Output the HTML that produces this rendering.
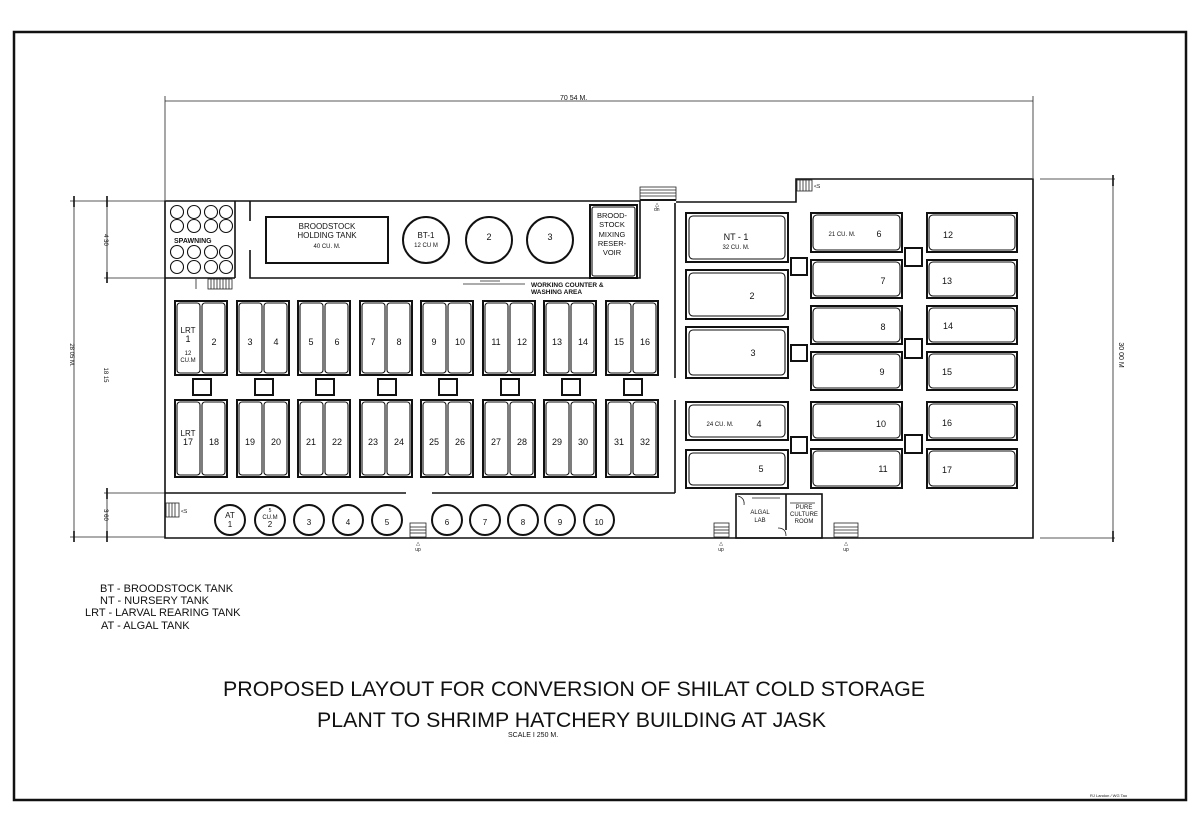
<!DOCTYPE html>
<html><head><meta charset="utf-8"><style>
html,body{margin:0;padding:0;background:#fff;}
svg{display:block;}
text{font-family:"Liberation Sans",sans-serif;fill:#111;}
.o{fill:none;stroke:#111;stroke-width:2;}
.i{fill:none;stroke:#111;stroke-width:1.1;}
.l{fill:none;stroke:#111;stroke-width:1.6;}
.t{fill:none;stroke:#222;stroke-width:0.8;}
.s{font-size:8px;}
.n{font-size:10px;text-anchor:middle;}
</style></head><body>
<svg width="1200" height="823" viewBox="0 0 1200 823" xmlns="http://www.w3.org/2000/svg">
<rect x="0" y="0" width="1200" height="823" fill="#fff"/>
<rect x="14" y="32" width="1172" height="768" fill="none" stroke="#111" stroke-width="2.5"/>

<line class="t" x1="165" y1="101" x2="1033" y2="101"/>
<line class="t" x1="165" y1="96" x2="165" y2="200"/>
<line class="t" x1="1033" y1="96" x2="1033" y2="178"/>
<text x="560" y="100" style="font-size:7px">70 54  M.</text>
<line class="t" x1="1113" y1="179" x2="1113" y2="538"/>
<line class="t" x1="1040" y1="179" x2="1115" y2="179"/>
<line class="t" x1="1040" y1="538" x2="1115" y2="538"/>
<line class="l" x1="1113" y1="175" x2="1113" y2="186"/>
<line class="l" x1="1113" y1="531" x2="1113" y2="542"/>
<text transform="translate(1119,355) rotate(90)" style="font-size:7px" text-anchor="middle">30 00 M</text>
<line class="t" x1="74" y1="201" x2="74" y2="537"/>
<line class="t" x1="107" y1="201" x2="107" y2="278"/>
<line class="t" x1="107" y1="493" x2="107" y2="537"/>
<line class="t" x1="70" y1="201" x2="165" y2="201"/>
<line class="t" x1="104" y1="278" x2="165" y2="278"/>
<line class="t" x1="104" y1="493" x2="165" y2="493"/>
<line class="t" x1="70" y1="537" x2="165" y2="537"/>
<line class="l" x1="74" y1="196" x2="74" y2="207"/><line class="l" x1="74" y1="531" x2="74" y2="542"/>
<line class="l" x1="107" y1="196" x2="107" y2="207"/><line class="l" x1="107" y1="272" x2="107" y2="283"/>
<line class="l" x1="107" y1="488" x2="107" y2="499"/><line class="l" x1="107" y1="531" x2="107" y2="542"/>
<text transform="translate(70,355) rotate(90)" style="font-size:6px" text-anchor="middle">28 05 M.</text>
<text transform="translate(104,240) rotate(90)" style="font-size:6px" text-anchor="middle">4 30</text>
<text transform="translate(104,375) rotate(90)" style="font-size:6px" text-anchor="middle">18 15</text>
<text transform="translate(104,515) rotate(90)" style="font-size:6px" text-anchor="middle">3 60</text>

<polyline class="l" points="640,201 165,201 165,538 1033,538 1033,179 796,179 796,202 676,202"/>
<line class="o" x1="640" y1="200" x2="676" y2="200"/>
<line class="l" x1="235" y1="201" x2="235" y2="278"/>
<line class="l" x1="165" y1="278" x2="235" y2="278"/>
<polyline class="l" points="250,201 250,221"/><polyline class="l" points="250,250 250,278 640,278 640,201"/>
<line class="l" x1="675" y1="203" x2="675" y2="378"/>
<line class="l" x1="675" y1="400" x2="675" y2="493"/>
<line class="l" x1="165" y1="493" x2="406" y2="493"/>
<line class="l" x1="432" y1="493" x2="675" y2="493"/>

<g class="i">
<circle cx="177" cy="212" r="6.5"/><circle cx="194" cy="212" r="6.5"/><circle cx="211" cy="212" r="6.5"/><circle cx="226" cy="212" r="6.5"/>
<circle cx="177" cy="226" r="6.5"/><circle cx="194" cy="226" r="6.5"/><circle cx="211" cy="226" r="6.5"/><circle cx="226" cy="226" r="6.5"/>
<circle cx="177" cy="252" r="6.5"/><circle cx="194" cy="252" r="6.5"/><circle cx="211" cy="252" r="6.5"/><circle cx="226" cy="252" r="6.5"/>
<circle cx="177" cy="267" r="6.5"/><circle cx="194" cy="267" r="6.5"/><circle cx="211" cy="267" r="6.5"/><circle cx="226" cy="267" r="6.5"/>
</g>
<text x="174" y="243" style="font-size:7px;font-weight:bold">SPAWNING</text>
<g class="t"><rect x="208" y="279" width="24" height="10"/>
<line x1="211" y1="279" x2="211" y2="289"/><line x1="214" y1="279" x2="214" y2="289"/><line x1="217" y1="279" x2="217" y2="289"/><line x1="220" y1="279" x2="220" y2="289"/><line x1="223" y1="279" x2="223" y2="289"/><line x1="226" y1="279" x2="226" y2="289"/><line x1="229" y1="279" x2="229" y2="289"/>
<line x1="196" y1="279" x2="196" y2="289"/></g>

<rect class="o" x="266" y="217" width="122" height="46"/>
<text class="n" x="327" y="229" style="font-size:8px">BROODSTOCK</text>
<text class="n" x="327" y="238" style="font-size:8px">HOLDING TANK</text>
<text class="n" x="327" y="248" style="font-size:6px">40 CU. M.</text>
<circle class="o" cx="426" cy="240" r="23"/>
<text class="n" x="426" y="238" style="font-size:8px">BT-1</text>
<text class="n" x="426" y="247" style="font-size:6px">12 CU M</text>
<circle class="o" cx="489" cy="240" r="23"/>
<text class="n" x="489" y="240" style="font-size:9px">2</text>
<circle class="o" cx="550" cy="240" r="23"/>
<text class="n" x="550" y="240" style="font-size:9px">3</text>
<rect class="o" x="590" y="205" width="47" height="73"/>
<rect class="i" x="592" y="207" width="43" height="69" rx="2"/>
<text class="n" x="612" y="218" style="font-size:7.5px">BROOD-</text>
<text class="n" x="612" y="227" style="font-size:7.5px">STOCK</text>
<text class="n" x="612" y="237" style="font-size:7.5px">MIXING</text>
<text class="n" x="612" y="246" style="font-size:7.5px">RESER-</text>
<text class="n" x="612" y="255" style="font-size:7.5px">VOIR</text>
<g class="t"><rect x="640" y="187" width="36" height="13"/>
<line x1="640" y1="190" x2="676" y2="190"/><line x1="640" y1="193" x2="676" y2="193"/><line x1="640" y1="196" x2="676" y2="196"/></g>
<text x="654" y="211" style="font-size:5px">dn</text>

<line class="t" x1="463" y1="284" x2="525" y2="284"/><line class="t" x1="480" y1="281" x2="500" y2="281"/>
<text x="531" y="287" style="font-size:6.5px;font-weight:bold">WORKING COUNTER &amp;</text>
<text x="531" y="294" style="font-size:6.5px;font-weight:bold">WASHING AREA</text>

<g>
<rect class="o" x="175" y="301" width="52" height="74"/><rect class="i" x="177" y="303" width="23" height="70" rx="3"/><rect class="i" x="202" y="303" width="23" height="70" rx="3"/>
<rect class="o" x="175" y="400" width="52" height="77"/><rect class="i" x="177" y="402" width="23" height="73" rx="3"/><rect class="i" x="202" y="402" width="23" height="73" rx="3"/>
<rect class="o" x="193" y="379" width="18" height="16"/>
<rect class="o" x="237" y="301" width="52" height="74"/><rect class="i" x="239" y="303" width="23" height="70" rx="3"/><rect class="i" x="264" y="303" width="23" height="70" rx="3"/>
<rect class="o" x="237" y="400" width="52" height="77"/><rect class="i" x="239" y="402" width="23" height="73" rx="3"/><rect class="i" x="264" y="402" width="23" height="73" rx="3"/>
<rect class="o" x="255" y="379" width="18" height="16"/>
<rect class="o" x="298" y="301" width="52" height="74"/><rect class="i" x="300" y="303" width="23" height="70" rx="3"/><rect class="i" x="325" y="303" width="23" height="70" rx="3"/>
<rect class="o" x="298" y="400" width="52" height="77"/><rect class="i" x="300" y="402" width="23" height="73" rx="3"/><rect class="i" x="325" y="402" width="23" height="73" rx="3"/>
<rect class="o" x="316" y="379" width="18" height="16"/>
<rect class="o" x="360" y="301" width="52" height="74"/><rect class="i" x="362" y="303" width="23" height="70" rx="3"/><rect class="i" x="387" y="303" width="23" height="70" rx="3"/>
<rect class="o" x="360" y="400" width="52" height="77"/><rect class="i" x="362" y="402" width="23" height="73" rx="3"/><rect class="i" x="387" y="402" width="23" height="73" rx="3"/>
<rect class="o" x="378" y="379" width="18" height="16"/>
<rect class="o" x="421" y="301" width="52" height="74"/><rect class="i" x="423" y="303" width="23" height="70" rx="3"/><rect class="i" x="448" y="303" width="23" height="70" rx="3"/>
<rect class="o" x="421" y="400" width="52" height="77"/><rect class="i" x="423" y="402" width="23" height="73" rx="3"/><rect class="i" x="448" y="402" width="23" height="73" rx="3"/>
<rect class="o" x="439" y="379" width="18" height="16"/>
<rect class="o" x="483" y="301" width="52" height="74"/><rect class="i" x="485" y="303" width="23" height="70" rx="3"/><rect class="i" x="510" y="303" width="23" height="70" rx="3"/>
<rect class="o" x="483" y="400" width="52" height="77"/><rect class="i" x="485" y="402" width="23" height="73" rx="3"/><rect class="i" x="510" y="402" width="23" height="73" rx="3"/>
<rect class="o" x="501" y="379" width="18" height="16"/>
<rect class="o" x="544" y="301" width="52" height="74"/><rect class="i" x="546" y="303" width="23" height="70" rx="3"/><rect class="i" x="571" y="303" width="23" height="70" rx="3"/>
<rect class="o" x="544" y="400" width="52" height="77"/><rect class="i" x="546" y="402" width="23" height="73" rx="3"/><rect class="i" x="571" y="402" width="23" height="73" rx="3"/>
<rect class="o" x="562" y="379" width="18" height="16"/>
<rect class="o" x="606" y="301" width="52" height="74"/><rect class="i" x="608" y="303" width="23" height="70" rx="3"/><rect class="i" x="633" y="303" width="23" height="70" rx="3"/>
<rect class="o" x="606" y="400" width="52" height="77"/><rect class="i" x="608" y="402" width="23" height="73" rx="3"/><rect class="i" x="633" y="402" width="23" height="73" rx="3"/>
<rect class="o" x="624" y="379" width="18" height="16"/>
</g>
<g style="font-size:9px;text-anchor:middle">
<text x="188" y="333" style="font-size:8px">LRT</text><text x="188" y="342">1</text><text x="188" y="355" style="font-size:6px">12</text><text x="188" y="362" style="font-size:6px">CU.M</text>
<text x="214" y="345">2</text>
<text x="250" y="345">3</text><text x="276" y="345">4</text>
<text x="311" y="345">5</text><text x="337" y="345">6</text>
<text x="373" y="345">7</text><text x="399" y="345">8</text>
<text x="434" y="345">9</text><text x="460" y="345">10</text>
<text x="496" y="345">11</text><text x="522" y="345">12</text>
<text x="557" y="345">13</text><text x="583" y="345">14</text>
<text x="619" y="345">15</text><text x="645" y="345">16</text>
<text x="188" y="436" style="font-size:8px">LRT</text><text x="188" y="445">17</text>
<text x="214" y="445">18</text>
<text x="250" y="445">19</text><text x="276" y="445">20</text>
<text x="311" y="445">21</text><text x="337" y="445">22</text>
<text x="373" y="445">23</text><text x="399" y="445">24</text>
<text x="434" y="445">25</text><text x="460" y="445">26</text>
<text x="496" y="445">27</text><text x="522" y="445">28</text>
<text x="557" y="445">29</text><text x="583" y="445">30</text>
<text x="619" y="445">31</text><text x="645" y="445">32</text>
</g>

<g class="o">
<circle cx="230" cy="520" r="15"/><circle cx="270" cy="520" r="15"/><circle cx="309" cy="520" r="15"/><circle cx="348" cy="520" r="15"/><circle cx="387" cy="520" r="15"/>
<circle cx="447" cy="520" r="15"/><circle cx="485" cy="520" r="15"/><circle cx="523" cy="520" r="15"/><circle cx="560" cy="520" r="15"/><circle cx="599" cy="520" r="15"/>
</g>
<g style="font-size:8px;text-anchor:middle">
<text x="230" y="518">AT</text><text x="230" y="527">1</text>
<text x="270" y="512" style="font-size:5px">5</text><text x="270" y="519" style="font-size:6px">CU.M</text><text x="270" y="527">2</text>
<text x="309" y="525">3</text><text x="348" y="525">4</text><text x="387" y="525">5</text>
<text x="447" y="525">6</text><text x="485" y="525">7</text><text x="523" y="525">8</text><text x="560" y="525">9</text><text x="599" y="525">10</text>
</g>
<g class="t"><rect x="166" y="503" width="13" height="14"/><line x1="169" y1="503" x2="169" y2="517"/><line x1="172" y1="503" x2="172" y2="517"/><line x1="175" y1="503" x2="175" y2="517"/></g>
<text x="181" y="513" style="font-size:5px">&lt;S</text>
<g class="t">
<rect x="410" y="523" width="16" height="14"/><line x1="410" y1="527" x2="426" y2="527"/><line x1="410" y1="530" x2="426" y2="530"/><line x1="410" y1="533" x2="426" y2="533"/>
<rect x="714" y="523" width="15" height="14"/><line x1="714" y1="527" x2="729" y2="527"/><line x1="714" y1="530" x2="729" y2="530"/><line x1="714" y1="533" x2="729" y2="533"/>
<rect x="834" y="523" width="24" height="14"/><line x1="834" y1="527" x2="858" y2="527"/><line x1="834" y1="530" x2="858" y2="530"/><line x1="834" y1="533" x2="858" y2="533"/>
</g>
<g style="font-size:5px;text-anchor:middle">
<text x="418" y="545">△</text><text x="418" y="551">up</text>
<text x="721" y="545">△</text><text x="721" y="551">up</text>
<text x="846" y="545">△</text><text x="846" y="551">up</text>
<text x="657" y="206">△</text>
</g>
<g class="t"><rect x="797" y="180" width="15" height="11"/><line x1="800" y1="180" x2="800" y2="191"/><line x1="803" y1="180" x2="803" y2="191"/><line x1="806" y1="180" x2="806" y2="191"/><line x1="809" y1="180" x2="809" y2="191"/></g>
<text x="814" y="188" style="font-size:5px">&lt;S</text>

<g>
<rect class="o" x="686" y="213" width="102" height="49"/><rect class="i" x="689" y="216" width="96" height="43" rx="4"/>
<rect class="o" x="686" y="270" width="102" height="49"/><rect class="i" x="689" y="273" width="96" height="43" rx="4"/>
<rect class="o" x="686" y="327" width="102" height="51"/><rect class="i" x="689" y="330" width="96" height="45" rx="4"/>
<rect class="o" x="686" y="402" width="102" height="38"/><rect class="i" x="689" y="405" width="96" height="32" rx="4"/>
<rect class="o" x="686" y="450" width="102" height="38"/><rect class="i" x="689" y="453" width="96" height="32" rx="4"/>
<rect class="o" x="791" y="258" width="16" height="17"/>
<rect class="o" x="791" y="345" width="16" height="16"/>
<rect class="o" x="791" y="437" width="16" height="16"/>
</g>
<g>
<rect class="o" x="811" y="213" width="91" height="39"/><rect class="i" x="813" y="215" width="87" height="35" rx="4"/>
<rect class="o" x="811" y="260" width="91" height="38"/><rect class="i" x="813" y="262" width="87" height="34" rx="4"/>
<rect class="o" x="811" y="306" width="91" height="38"/><rect class="i" x="813" y="308" width="87" height="34" rx="4"/>
<rect class="o" x="811" y="352" width="91" height="38"/><rect class="i" x="813" y="354" width="87" height="34" rx="4"/>
<rect class="o" x="811" y="402" width="91" height="38"/><rect class="i" x="813" y="404" width="87" height="34" rx="4"/>
<rect class="o" x="811" y="449" width="91" height="39"/><rect class="i" x="813" y="451" width="87" height="35" rx="4"/>
<rect class="o" x="927" y="213" width="90" height="39"/><rect class="i" x="929" y="215" width="86" height="35" rx="4"/>
<rect class="o" x="927" y="260" width="90" height="38"/><rect class="i" x="929" y="262" width="86" height="34" rx="4"/>
<rect class="o" x="927" y="306" width="90" height="38"/><rect class="i" x="929" y="308" width="86" height="34" rx="4"/>
<rect class="o" x="927" y="352" width="90" height="38"/><rect class="i" x="929" y="354" width="86" height="34" rx="4"/>
<rect class="o" x="927" y="402" width="90" height="38"/><rect class="i" x="929" y="404" width="86" height="34" rx="4"/>
<rect class="o" x="927" y="449" width="90" height="39"/><rect class="i" x="929" y="451" width="86" height="35" rx="4"/>
<rect class="o" x="905" y="248" width="17" height="18"/>
<rect class="o" x="905" y="339" width="17" height="19"/>
<rect class="o" x="905" y="435" width="17" height="18"/>
</g>
<g style="font-size:9px;text-anchor:middle">
<text x="736" y="240">NT - 1</text><text x="736" y="249" style="font-size:6px">32 CU. M.</text>
<text x="752" y="299">2</text><text x="753" y="356">3</text>
<text x="720" y="426" style="font-size:6px">24 CU. M.</text><text x="759" y="427">4</text>
<text x="761" y="472">5</text>
<text x="842" y="236" style="font-size:6px">21 CU. M.</text><text x="879" y="237">6</text>
<text x="883" y="284">7</text><text x="883" y="330">8</text><text x="882" y="375">9</text>
<text x="881" y="427">10</text><text x="883" y="472">11</text>
<text x="948" y="238">12</text><text x="947" y="284">13</text><text x="948" y="329">14</text>
<text x="947" y="375">15</text><text x="947" y="426">16</text><text x="947" y="473">17</text>
</g>

<rect class="l" x="736" y="494" width="86" height="44"/>
<line class="l" x1="786" y1="494" x2="786" y2="530"/>
<path class="t" d="M738 496 Q745 498 744 505 M752 498 L780 498 M790 503 L815 503 M778 528 Q786 528 786 536"/>
<text class="n" x="760" y="514" style="font-size:6px">ALGAL</text>
<text class="n" x="760" y="522" style="font-size:6px">LAB</text>
<text class="n" x="804" y="509" style="font-size:6px">PURE</text>
<text class="n" x="804" y="516" style="font-size:6px">CULTURE</text>
<text class="n" x="804" y="523" style="font-size:6px">ROOM</text>

<g style="font-size:11px">
<text x="100" y="592">BT - BROODSTOCK  TANK</text>
<text x="100" y="604">NT - NURSERY  TANK</text>
<text x="85" y="616">LRT - LARVAL REARING TANK</text>
<text x="101" y="629">AT - ALGAL  TANK</text>
</g>
<text x="223" y="696" textLength="702" lengthAdjust="spacingAndGlyphs" style="font-size:21px">PROPOSED LAYOUT FOR CONVERSION OF SHILAT COLD STORAGE</text>
<text x="317" y="727" textLength="509" lengthAdjust="spacingAndGlyphs" style="font-size:21px">PLANT TO SHRIMP HATCHERY BUILDING AT JASK</text>
<text x="508" y="737" style="font-size:7px">SCALE   I  250    M.</text>
<text x="1090" y="797" style="font-size:4px">RJ Landon / WG Tao</text>
</svg>
</body></html>
